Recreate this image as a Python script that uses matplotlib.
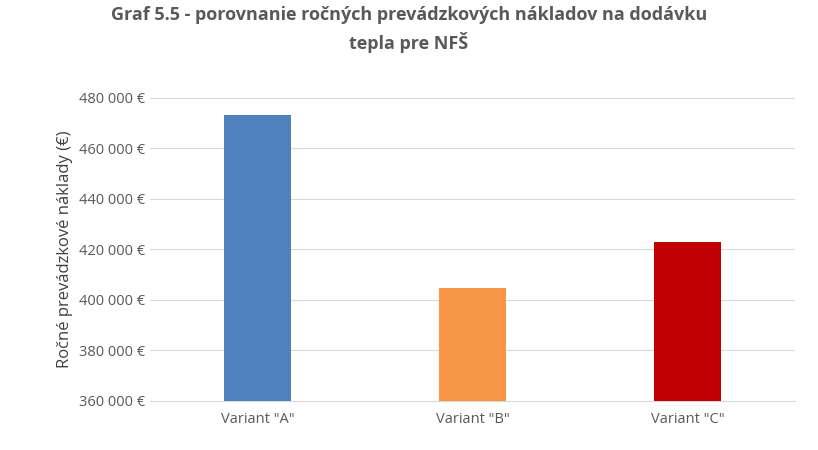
import matplotlib.pyplot as plt
from matplotlib.ticker import FuncFormatter

categories = ['Variant "A"', 'Variant "B"', 'Variant "C"']
costs = [473300, 404800, 422900]
colors = ['#4F81BD', '#F79646', '#C00000']

plt.rcParams['font.family'] = ['Open Sans', 'DejaVu Sans']

fig = plt.figure(figsize=(8.18, 4.5), dpi=100)
ax = fig.add_axes([150/818, 49/450, 645/818, 303/450])

x = range(len(categories))
ax.bar(x, costs, width=0.31, color=colors, zorder=3)
ax.set_xlim(-0.5, 2.5)
ax.set_ylim(360000, 480000)
ax.set_yticks(range(360000, 480001, 20000))
ax.yaxis.set_major_formatter(FuncFormatter(lambda v, p: f'{int(v):,} €'.replace(',', '\u00a0')))
ax.set_xticks(list(x))
ax.set_xticklabels(categories)
ax.grid(axis='y', color='#D9D9D9', linewidth=0.8, zorder=0)
for s in ['top', 'right', 'left']:
    ax.spines[s].set_visible(False)
ax.spines['bottom'].set_color('#D9D9D9')
ax.tick_params(length=0, colors='#595959', labelsize=10.5)
ax.tick_params(axis='x', pad=8)
ax.set_ylabel('Ročné prevádzkové náklady (€)', fontsize=12, color='#404040')

fig.text(0.5, 0.935, 'Graf 5.5 - porovnanie ročných prevádzkových nákladov na dodávku\ntepla pre NFŠ',
         ha='center', va='center', fontsize=13, fontweight='bold', color='#595959', linespacing=1.5)

fig.savefig('out.png', dpi=100)
